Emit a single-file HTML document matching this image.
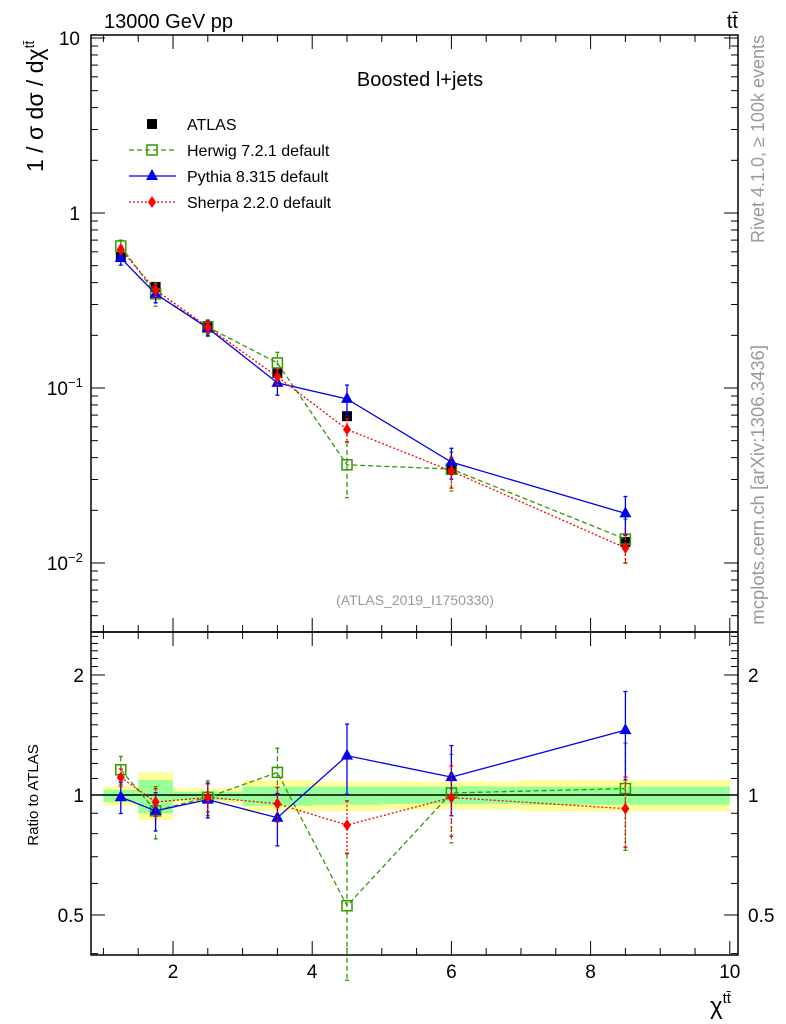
<!DOCTYPE html>
<html><head><meta charset="utf-8"><style>
body{margin:0;background:#fff}
svg{display:block;font-family:"Liberation Sans",sans-serif}
</style></head><body>
<svg id="c" width="786" height="1024" xmlns="http://www.w3.org/2000/svg"></svg>
<script>
const xCenters=[1.25,1.75,2.5,3.5,4.5,6,8.5];
const binEdges=[1,1.5,2,3,4,5,7,10];
const atlas=[0.56,0.378,0.226,0.122,0.069,0.034,0.0132];
const bandYelUp=[1.05,1.14,1.04,1.09,1.08,1.08,1.09];
const bandYelDn=[0.94,0.865,0.955,0.91,0.91,0.92,0.91];
const bandGrnUp=[1.03,1.09,1.02,1.05,1.05,1.05,1.05];
const bandGrnDn=[0.96,0.90,0.97,0.94,0.945,0.95,0.945];
const herwig=[0.648,0.345,0.223,0.139,0.0364,0.0344,0.0137];
const pythia=[0.553,0.345,0.22,0.107,0.0866,0.0377,0.0192];
const sherpa=[0.62,0.363,0.223,0.116,0.058,0.0335,0.0122];
const herwigErr=[0.08,0.15,0.1,0.15,0.35,0.25,0.3];
const pythiaErr=[0.09,0.11,0.1,0.15,0.2,0.2,0.25];
const sherpaErr=[0.05,0.08,0.08,0.1,0.15,0.2,0.2];
const xTicks=[2,4,6,8,10];
const ratioTicks=[0.5,1,2];
const mainTicks=[["10",1],["1",0],["10","-1"],["10","-2"]];

const S=document.getElementById('c');const NS='http://www.w3.org/2000/svg';
function el(t,a,p){const e=document.createElementNS(NS,t);for(const k in a)e.setAttribute(k,a[k]);(p||S).appendChild(e);return e;}
const L=91,R=738,T=35,M=632,B=955;
const X=x=>173+(x-2)*69.6;
const Y=v=>213-175*Math.log10(v);
const YR=r=>795-120*Math.log2(r);

const gb=el('g',{});
for(let i=0;i<xCenters.length;i++){
  const x0=X(binEdges[i]),x1=X(binEdges[i+1]);
  el('rect',{x:x0,y:YR(bandYelUp[i]),width:x1-x0,height:YR(bandYelDn[i])-YR(bandYelUp[i]),fill:'#ffff99'},gb);
  el('rect',{x:x0,y:YR(bandGrnUp[i]),width:x1-x0,height:YR(bandGrnDn[i])-YR(bandGrnUp[i]),fill:'#99ff99'},gb);
}
el('line',{x1:L,x2:R,y1:YR(1),y2:YR(1),stroke:'#000','stroke-width':1.5});

const fr=el('g',{fill:'none',stroke:'#000','stroke-width':1.5});
el('rect',{x:L,y:T,width:R-L,height:M-T},fr);
el('rect',{x:L,y:M,width:R-L,height:B-M},fr);
const tg=el('g',{stroke:'#000','stroke-width':1});
for(let x=1;x<=10;x+=0.5){const major=Number.isInteger(x)&&x%2==0;const len=major?14:7;const px=X(x);if(px<L||px>R)continue;
 [[T,1],[M,-1],[M,1],[B,-1]].forEach(([y,d])=>el('line',{x1:px,x2:px,y1:y,y2:y+d*len},tg));}
for(let d=-3;d<=1;d++){for(let m=1;m<10;m++){const v=m*Math.pow(10,d);const py=Y(v);if(py<T||py>M)continue;const len=m==1?14:7;
 el('line',{x1:L,x2:L+len,y1:py,y2:py},tg);el('line',{x1:R,x2:R-len,y1:py,y2:py},tg);}}
for(let r=0.4;r<=2.6;r+=0.1){const py=YR(r);if(py<M||py>B)continue;const maj=[0.5,1,2].some(v=>Math.abs(v-r)<1e-6);const len=maj?14:7;
 el('line',{x1:L,x2:L+len,y1:py,y2:py},tg);el('line',{x1:R,x2:R-len,y1:py,y2:py},tg);}

function txt(s,a,name){const t=el('text',a);t.textContent=s;return t;}
xTicks.forEach(v=>txt(String(v),{x:X(v),y:978,'font-size':19,'text-anchor':'middle'},'x-tick-label'));
ratioTicks.forEach(v=>{txt(String(v),{x:84,y:YR(v)+7,'font-size':19,'text-anchor':'end'},'ratio-tick-label-left');txt(String(v),{x:748,y:YR(v)+7,'font-size':19},'ratio-tick-label-right');});
mainTicks.forEach(([b,e])=>{const py=Y(Math.pow(10,+e));
 if(e===1||e===0){txt(b,{x:80,y:py+7,'font-size':19,'text-anchor':'end'},'y-tick-label');}
 else{txt(b,{x:68,y:py+7,'font-size':19,'text-anchor':'end'},'y-tick-label');const s=el('text',{x:68,y:py-1,'font-size':13});s.textContent='−'+String(e).slice(1);}});

function series(vals,errs,color,dash,marker,name,ratio){
 const g=el('g',{});
 const fy=ratio?(i=>YR(vals[i]/atlas[i])):(i=>Y(vals[i]));
 const pts=xCenters.map((x,i)=>X(x)+','+fy(i)).join(' ');
 el('polyline',{points:pts,fill:'none',stroke:color,'stroke-width':1.3,'stroke-dasharray':dash},g);
 xCenters.forEach((x,i)=>{const v=ratio?vals[i]/atlas[i]:vals[i];const f=ratio?YR:Y;const y1=f(v*(1+errs[i])),y2=f(Math.max(v*(1-errs[i]),0.01));
  const px=X(x);el('line',{x1:px,x2:px,y1:y1,y2:y2,stroke:color,'stroke-width':1.3,'stroke-dasharray':dash},g);
  el('line',{x1:px-2,x2:px+2,y1:y1,y2:y1,stroke:color,'stroke-width':1.3},g);el('line',{x1:px-2,x2:px+2,y1:y2,y2:y2,stroke:color,'stroke-width':1.3},g);
  drawMarker(marker,px,fy(i),color,g);});
}
function drawMarker(m,px,py,color,g){
 if(m=='sq')el('rect',{x:px-5,y:py-5,width:10,height:10,fill:'none',stroke:color,'stroke-width':1.5},g);
 else if(m=='tri')el('polygon',{points:`${px},${py-7} ${px-6},${py+4} ${px+6},${py+4}`,fill:color},g);
 else if(m=='dia')el('polygon',{points:`${px},${py-6} ${px-4},${py} ${px},${py+6} ${px+4},${py}`,fill:color},g);
 else el('rect',{x:px-5,y:py-5,width:10,height:10,fill:color},g);
}
const ga=el('g',{});
xCenters.forEach((x,i)=>drawMarker('full',X(x),Y(atlas[i]),'#000',ga));
series(herwig,herwigErr,'#339900','5,3','sq','herwig-series',false);
series(pythia,pythiaErr,'#0000ee','','tri','pythia-series',false);
series(sherpa,sherpaErr,'#ff0000','2,2','dia','sherpa-series',false);
series(herwig,herwigErr,'#339900','5,3','sq','herwig-ratio',true);
series(pythia,pythiaErr,'#0000ee','','tri','pythia-ratio',true);
series(sherpa,sherpaErr,'#ff0000','2,2','dia','sherpa-ratio',true);

const lg=el('g',{});
const leg=[['ATLAS','#000','','full'],['Herwig 7.2.1 default','#339900','5,3','sq'],['Pythia 8.315 default','#0000ee','','tri'],['Sherpa 2.2.0 default','#ff0000','2,2','dia']];
leg.forEach(([n,c,d,m],i)=>{const y=124+i*26;if(i>0)el('line',{x1:129,x2:176,y1:y,y2:y,stroke:c,'stroke-width':1.3,'stroke-dasharray':d},lg);drawMarker(m,152,y,c,lg);
 const t=el('text',{x:187,y:y+6,'font-size':16},lg);t.textContent=n;});

txt('13000 GeV pp',{x:104,y:28,'font-size':20},'beam-label');
txt('tt̄',{x:738,y:28,'font-size':20,'text-anchor':'end'},'process-label');
txt('Boosted l+jets',{x:420,y:86,'font-size':20,'text-anchor':'middle'},'plot-title');
txt('(ATLAS_2019_I1750330)',{x:415,y:605,'font-size':14,'text-anchor':'middle',fill:'#999'},'analysis-id');
txt('Rivet 4.1.0, ≥ 100k events',{x:0,y:0,'font-size':18,fill:'#999','text-anchor':'end',transform:'translate(764,35) rotate(-90)'},'rivet-label');
txt('mcplots.cern.ch [arXiv:1306.3436]',{x:0,y:0,'font-size':18.5,fill:'#999','text-anchor':'end',transform:'translate(764,345) rotate(-90)'},'mcplots-label');
const yl=el('text',{transform:'translate(43,172) rotate(-90)','font-size':23});
yl.innerHTML='1 / σ dσ / dχ<tspan dy="-9" font-size="14">tt̄</tspan>';
txt('Ratio to ATLAS',{transform:'translate(38,795) rotate(-90)','font-size':15,'text-anchor':'middle'},'ratio-axis-title');
const xl=el('text',{x:710,y:1014,'font-size':24});
xl.innerHTML='χ<tspan dy="-11" font-size="15">tt̄</tspan>';
</script>
</body></html>
